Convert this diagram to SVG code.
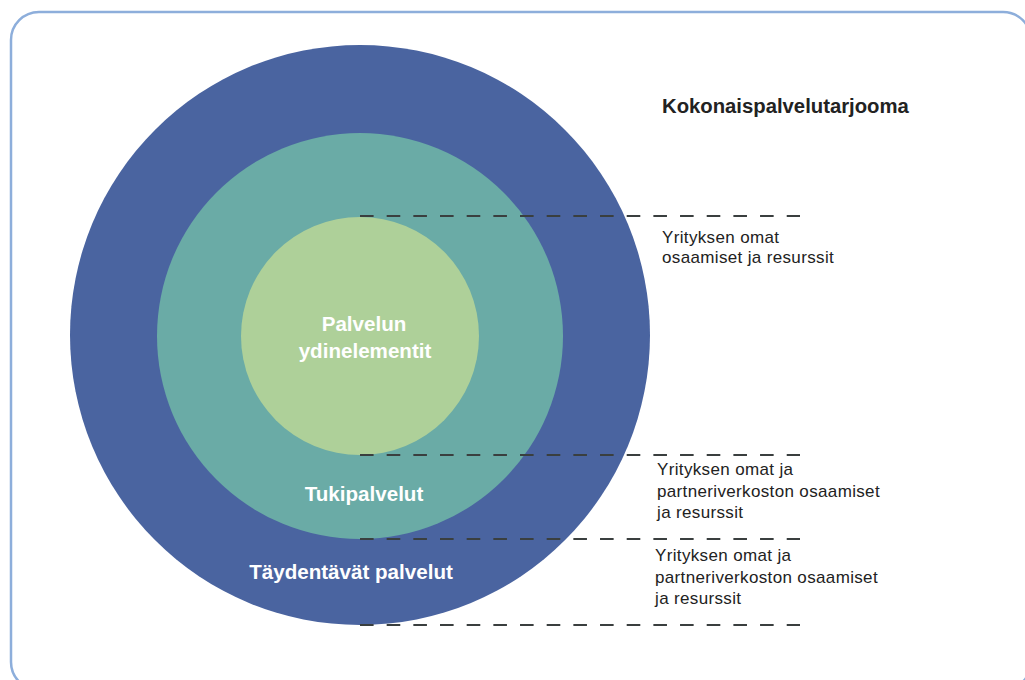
<svg xmlns="http://www.w3.org/2000/svg" width="1025" height="680" viewBox="0 0 1025 680">
  <style>
    .frame { fill: #ffffff; stroke: #8daedb; stroke-width: 2.5; }
    .ring-outer { fill: #4a64a0; }
    .ring-mid { fill: #6aaba6; }
    .ring-core { fill: #aed099; }
    .divider { stroke: #3a3f3f; stroke-width: 2.2; stroke-dasharray: 13.6 13.07; fill: none; }
    .circle-label { font-family: "Liberation Sans", Arial, sans-serif; font-weight: bold; font-size: 20.6px; fill: #ffffff; text-anchor: middle; }
    .title { font-family: "Liberation Sans", Arial, sans-serif; font-weight: bold; font-size: 20.3px; fill: #222222; }
    .note { font-family: "Liberation Sans", Arial, sans-serif; font-size: 17px; letter-spacing: 0.35px; fill: #222222; }
  </style>

  <rect class="frame" x="11" y="12" width="1020" height="678" rx="28" ry="28"/>

  <!-- Concentric service layers -->
  <g id="complementary-services">
    <circle class="ring-outer" cx="360" cy="335" r="290"/>
    <text class="circle-label" x="351" y="579">Täydentävät palvelut</text>
  </g>
  <g id="support-services">
    <circle class="ring-mid" cx="360" cy="336" r="203"/>
    <text class="circle-label" x="364" y="501">Tukipalvelut</text>
  </g>
  <g id="core-elements">
    <circle class="ring-core" cx="360" cy="336" r="119"/>
    <text class="circle-label" x="364" y="331">Palvelun</text>
    <text class="circle-label" x="365" y="358">ydinelementit</text>
  </g>

  <!-- Dashed layer boundaries -->
  <g id="connectors">
    <line class="divider" x1="360" y1="216" x2="800" y2="216"/>
    <line class="divider" x1="360" y1="455" x2="800" y2="455"/>
    <line class="divider" x1="360" y1="539" x2="800" y2="539"/>
    <line class="divider" x1="360" y1="625" x2="800" y2="625"/>
  </g>

  <!-- Side annotations -->
  <g id="total-offering">
    <text class="title" x="662" y="113">Kokonaispalvelutarjooma</text>
  </g>
  <g id="own-resources">
    <text class="note" x="662" y="243">Yrityksen omat</text>
    <text class="note" x="662" y="263">osaamiset ja resurssit</text>
  </g>
  <g id="partner-resources-support">
    <text class="note" x="657" y="475">Yrityksen omat ja</text>
    <text class="note" x="657" y="497">partneriverkoston osaamiset</text>
    <text class="note" x="657" y="518">ja resurssit</text>
  </g>
  <g id="partner-resources-complementary">
    <text class="note" x="655" y="561">Yrityksen omat ja</text>
    <text class="note" x="655" y="583">partneriverkoston osaamiset</text>
    <text class="note" x="655" y="604">ja resurssit</text>
  </g>
</svg>
